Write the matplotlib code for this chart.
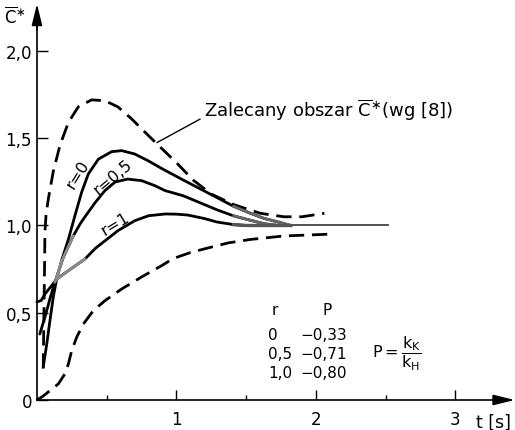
import matplotlib
matplotlib.use("Agg")
import matplotlib.pyplot as plt

plt.rcParams['font.family'] = ['DejaVu Sans']

# ---- data ----
upper_t = [0.045, 0.050, 0.055, 0.057, 0.065, 0.081, 0.117, 0.165, 0.225, 0.296, 0.392, 0.487,
           0.580, 0.680, 0.774, 0.870, 1.000, 1.120, 1.250, 1.410, 1.600, 1.770, 1.900, 2.060]
upper_c = [0.18, 0.50, 0.80, 0.96, 1.06, 1.15, 1.31, 1.46, 1.59, 1.68, 1.72, 1.715,
           1.68, 1.61, 1.535, 1.46, 1.36, 1.26, 1.18, 1.12, 1.07, 1.05, 1.05, 1.07]

lower_t = [0.00, 0.04, 0.081, 0.153, 0.200, 0.225, 0.249, 0.285, 0.332, 0.404, 0.487, 0.607,
           0.750, 0.894, 0.975, 1.10, 1.22, 1.37, 1.53, 1.65, 1.77, 1.93, 2.09]
lower_c = [0.00, 0.02, 0.046, 0.092, 0.149, 0.206, 0.283, 0.360, 0.435, 0.512, 0.569, 0.636,
           0.705, 0.770, 0.810, 0.845, 0.870, 0.900, 0.920, 0.930, 0.940, 0.945, 0.950]

r0_t = [0.045, 0.070, 0.093, 0.117, 0.141, 0.177, 0.225, 0.272, 0.320, 0.368, 0.440, 0.535,
        0.607, 0.700, 0.797, 0.900, 1.050, 1.170, 1.290, 1.410, 1.530, 1.630, 1.730, 1.820]
r0_c = [0.19, 0.32, 0.455, 0.59, 0.693, 0.80, 0.92, 1.056, 1.19, 1.295, 1.38, 1.423,
        1.429, 1.41, 1.371, 1.324, 1.26, 1.21, 1.16, 1.11, 1.07, 1.04, 1.02, 1.00]

r05_t = [0.020, 0.057, 0.093, 0.129, 0.190, 0.260, 0.310, 0.344, 0.416, 0.487, 0.560, 0.650,
         0.750, 0.846, 0.918, 1.050, 1.170, 1.290, 1.410, 1.530, 1.630, 1.730]
r05_c = [0.378, 0.475, 0.58, 0.676, 0.82, 0.94, 1.01, 1.05, 1.13, 1.20, 1.249, 1.266,
         1.257, 1.228, 1.20, 1.17, 1.13, 1.09, 1.055, 1.03, 1.01, 1.00]

r1_t = [0.000, 0.030, 0.057, 0.105, 0.141, 0.225, 0.344, 0.420, 0.500, 0.580, 0.700, 0.800,
        0.920, 1.000, 1.080, 1.200, 1.290, 1.410, 1.500, 1.820]
r1_c = [0.562, 0.57, 0.607, 0.655, 0.693, 0.741, 0.808, 0.87, 0.92, 0.97, 1.027, 1.056,
        1.066, 1.065, 1.06, 1.04, 1.02, 1.005, 1.00, 1.00]

steady_t = [1.82, 2.52]
steady_c = [1.00, 1.00]

table_r = ["0", "0,5", "1,0"]
table_p = ["\u22120,33", "\u22120,71", "\u22120,80"]

x_ticks = [1, 2, 3]
x_minor = [0.5, 1.5, 2.5]
x_labels = ["1", "2", "3"]
y_ticks = [0, 0.5, 1.0, 1.5, 2.0]
y_labels = ["0", "0,5", "1,0", "1,5", "2,0"]

# ---- figure ----
fig = plt.figure(figsize=(5.15, 4.31), dpi=100)
ax = fig.add_axes([0, 0, 1, 1])
ax.set_xlim(-0.265, 3.427)
ax.set_ylim(-0.172, 2.298)

for s in ['top', 'right']:
    ax.spines[s].set_visible(False)
ax.spines['left'].set_position(('data', 0))
ax.spines['bottom'].set_position(('data', 0))
ax.spines['left'].set_bounds(0, 2.2)
ax.spines['bottom'].set_bounds(0, 3.35)
for s in ['left', 'bottom']:
    ax.spines[s].set_linewidth(1.2)

ax.annotate('', xy=(3.425, 0), xytext=(3.30, 0),
            arrowprops=dict(arrowstyle='-|>,head_length=1.3,head_width=0.32',
                            mutation_scale=10, color='black', lw=1.2,
                            shrinkA=0, shrinkB=0), annotation_clip=False)
ax.annotate('', xy=(0, 2.27), xytext=(0, 2.12),
            arrowprops=dict(arrowstyle='-|>,head_length=1.3,head_width=0.32',
                            mutation_scale=10, color='black', lw=1.2,
                            shrinkA=0, shrinkB=0), annotation_clip=False)

ax.set_xticks(x_ticks)
ax.set_xticklabels(x_labels)
ax.set_xticks(x_minor, minor=True)
ax.set_yticks(y_ticks)
ax.set_yticklabels(y_labels)
ax.tick_params(axis='x', which='major', direction='in', length=7, width=1.0, pad=7, labelsize=12)
ax.tick_params(axis='x', which='minor', direction='in', length=3.5, width=1.0)
ax.tick_params(axis='y', which='major', direction='in', length=8, width=1.0, pad=3.5, labelsize=12)

dash = (0, (5.5, 2.8))
ax.plot(upper_t, upper_c, color='black', lw=2.0, linestyle=dash, dash_joinstyle='round')
ax.plot(lower_t, lower_c, color='black', lw=2.0, linestyle=dash, dash_joinstyle='round')

for tt, cc in [(r0_t, r0_c), (r05_t, r05_c), (r1_t, r1_c)]:
    ax.plot(tt, cc, color='black', lw=2.0, solid_joinstyle='round', solid_capstyle='round')
ax.plot(steady_t, steady_c, color='#333333', lw=1.2)

# greyish parts from the scan
ax.plot(r1_t[4:7], r1_c[4:7], color='#8a8a8a', lw=2.0, solid_joinstyle='round')
ax.plot(r05_t[3:6], r05_c[3:6], color='#8a8a8a', lw=2.0, solid_joinstyle='round')
ax.plot(r0_t[4:6], r0_c[4:6], color='#8a8a8a', lw=2.0, solid_joinstyle='round')
ax.plot(r0_t[19:], r0_c[19:], color='#666666', lw=2.0, solid_joinstyle='round')
ax.plot(r05_t[18:], r05_c[18:], color='#666666', lw=2.0, solid_joinstyle='round')
ax.plot(r1_t[17:], r1_c[17:], color='#555555', lw=2.4)

# texts
ax.text(-0.16, 2.20, r"$\overline{\mathrm{C}}^{\ast}$", fontsize=12, ha='center', va='center')
ax.text(1.20, 1.667, r"Zalecany obszar $\overline{\mathrm{C}}^{\ast}$(wg [8])",
        fontsize=13, ha='left', va='center')
ax.annotate('', xy=(0.86, 1.475), xytext=(1.17, 1.61),
            arrowprops=dict(arrowstyle='-', color='black', lw=1.0, shrinkA=0, shrinkB=0))

ax.text(0.295, 1.295, "r=0", fontsize=11.5, rotation=58, ha='center', va='center')
ax.text(0.545, 1.28, "r=0,5", fontsize=11.5, rotation=40, ha='center', va='center')
ax.text(0.563, 1.014, "r=1", fontsize=11.5, rotation=31, ha='center', va='center')

ax.text(1.68, 0.52, "r", fontsize=11, ha='left', va='center')
ax.text(2.05, 0.52, "P", fontsize=11, ha='left', va='center')
row_c = [0.378, 0.265, 0.160]
for rv, pv, yc in zip(table_r, table_p, row_c):
    ax.text(1.655, yc, rv, fontsize=11, ha='left', va='center')
    ax.text(1.885, yc, pv, fontsize=11, ha='left', va='center')

ax.text(2.40, 0.27, r"$\mathrm{P}=\dfrac{\mathrm{k_K}}{\mathrm{k_H}}$", fontsize=11.5,
        ha='left', va='center')

ax.text(3.27, -0.125, "t [s]", fontsize=12.5, ha='center', va='center')

fig.savefig("out.png", dpi=100)
